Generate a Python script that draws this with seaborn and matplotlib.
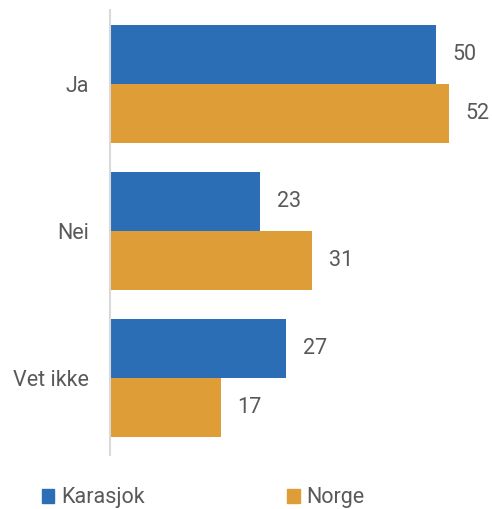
import numpy as np
import pandas as pd
import matplotlib
matplotlib.use("Agg")
import matplotlib.pyplot as plt
from matplotlib.patches import Patch
import seaborn as sns

categories = ["Ja", "Nei", "Vet ikke"]
series = ["Karasjok", "Norge"]
karasjok = [50, 23, 27]
norge = [52, 31, 17]
colors = ["#2C6EB5", "#DE9D36"]

df = pd.DataFrame({
    "svar": categories * 2,
    "gruppe": [series[0]] * 3 + [series[1]] * 3,
    "verdi": karasjok + norge,
})

sns.set_theme(style="white")
plt.rcParams["font.family"] = ["Roboto", "DejaVu Sans"]
text_col = "#595959"
fs = 15.5

fig = plt.figure(figsize=(4.92, 5.09), dpi=100)
ax = fig.add_axes([0.2236, 0.1061, 0.768, 0.8743])
sns.barplot(data=df, y="svar", x="verdi", hue="gruppe", orient="h",
            palette=colors, width=0.8, saturation=1, linewidth=0, ax=ax, legend=False)

for c in ax.containers:
    ax.bar_label(c, padding=12, fontsize=fs, color=text_col)

ax.set_xlim(0, 58)
ax.set_ylim(2.524, -0.503)
ax.set_xlabel("")
ax.set_ylabel("")
ax.set_xticks([])
ax.tick_params(axis="y", length=0, pad=15, labelsize=fs, labelcolor=text_col)
for s in ["top", "right", "bottom"]:
    ax.spines[s].set_visible(False)
ax.spines["left"].set_color("#D9D9D9")
ax.spines["left"].set_linewidth(1.5)

handles = [Patch(color=colors[0], label=series[0]), Patch(color=colors[1], label=series[1])]
fig.legend(handles=handles, loc="lower left", bbox_to_anchor=(0.045, -0.037), ncol=2,
           frameon=False, fontsize=fs, labelcolor=text_col, handlelength=0.6,
           handleheight=0.6, handletextpad=0.3, columnspacing=6.6)

fig.savefig("out.png", dpi=100)
